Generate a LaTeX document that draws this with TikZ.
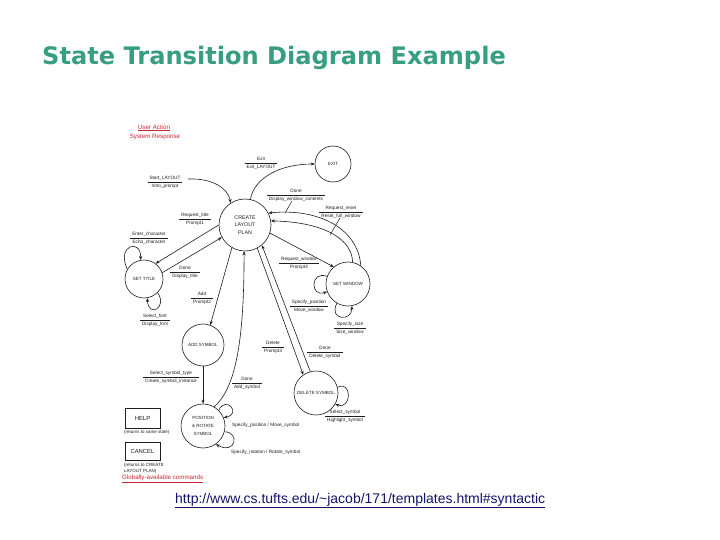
\documentclass[tikz,border=0pt]{standalone}
\usepackage{fontspec}
\setmainfont{Liberation Sans}
\newfontfamily\titlefont{DejaVu Sans}
\usetikzlibrary{arrows.meta}
\definecolor{titlegreen}{RGB}{56,158,128}
\definecolor{legred}{RGB}{200,40,50}
\definecolor{urlblue}{RGB}{20,20,110}
\definecolor{ink}{RGB}{30,30,30}
\renewcommand\arraystretch{1.4}
\setlength\arrayrulewidth{0.5pt}
\newcommand\fr[2]{\begin{tabular}{@{\hspace{2pt}}c@{\hspace{2pt}}}#1\\\hline #2\end{tabular}}
\tikzset{
  state/.style={circle, draw=ink, line width=0.6pt, inner sep=0pt, align=center, text=ink,
    font=\fontsize{4.5}{6}\selectfont},
  lab/.style={inner sep=0pt, text=ink, font=\fontsize{4.7}{5.6}\selectfont},
  arr/.style={draw=ink, line width=0.6pt, -{Stealth[length=4pt,width=3.2pt]}},
  lead/.style={draw=ink, line width=0.5pt},
  cmdbox/.style={draw=ink, line width=0.6pt, inner sep=0pt, text=ink, font=\fontsize{5.9}{7}\selectfont},
  note/.style={inner sep=0pt, text=ink, font=\fontsize{4.5}{5.8}\selectfont, align=left},
  legend/.style={inner sep=0pt, text=legred, font=\fontsize{6.2}{7.4}\selectfont}
}
\begin{document}
\begin{tikzpicture}[x=1pt,y=-1pt]
\useasboundingbox (0,0) rectangle (720,540);
\fill[white] (0,0) rectangle (720,540);

% title
\node[anchor=base west, inner sep=0pt, text=titlegreen,
  font=\titlefont\bfseries\fontsize{24.1}{28}\selectfont] (title) at (42,65) {State Transition Diagram Example};

% legend
\node[legend] (ua) at (154,128) {\underline{User Action}};
\node[legend] (sr) at (155,137) {System Response};

% states
\node[state, minimum size=52pt, font=\fontsize{5.3}{7.3}\selectfont] (create) at (245,225) {CREATE\\LAYOUT\\PLAN};
\node[state, minimum size=36pt] (exit) at (333,164) {EXIT};
\node[state, minimum size=38pt] (settitle) at (144,279) {SET TITLE};
\node[state, minimum size=44pt] (setwin) at (348,284) {SET WINDOW};
\node[state, minimum size=42pt] (addsym) at (203,345) {ADD SYMBOL};
\node[state, minimum size=44pt] (delsym) at (316,393) {DELETE SYMBOL};
\node[state, minimum size=44pt, font=\fontsize{4.5}{8}\selectfont] (posrot) at (203,426) {POSITION\\\& ROTATE\\SYMBOL};

% transitions
\coordinate (startfree) at (188,179);
\draw[arr] (startfree) .. controls (212,178) and (228,188) .. (create.123);
\draw[arr] (create.78) .. controls (254,178) and (280,164) .. (exit.180);
\draw[arr] (setwin.55) .. controls (358,228) and (318,208) .. (create.27);
\draw[arr] (setwin.78) .. controls (352,238) and (322,222) .. (create.9);
\draw[arr] (create.-18) -- (setwin.130);
\draw[arr] (setwin.160) .. controls (310,270) and (310,298) .. (setwin.200);
\draw[arr] (setwin.240) .. controls (328,320) and (352,322) .. (setwin.280);
\draw[arr] (create.180) -- (settitle.53);
\draw[arr] (settitle.19) -- (create.208);
\draw[arr] (settitle.150) .. controls (116,245) and (141,238) .. (settitle.100);
\draw[arr] (settitle.-45) .. controls (168,308) and (148,318) .. (settitle.-80);
\draw[arr] (create.240) -- (addsym.70);
\draw[arr] (posrot.60) .. controls (240,385) and (244,320) .. (create.268);
\draw[arr] (create.-62) -- (delsym.125);
\draw[arr] (delsym.105) -- (create.-50);
\draw[arr] (delsym.15) .. controls (352,380) and (352,410) .. (delsym.-30);
\draw[arr] (addsym.-90) -- (posrot.90);
\draw[arr] (posrot.45) .. controls (226,395) and (242,414) .. (posrot.22);
\draw[arr] (posrot.-15) .. controls (240,432) and (236,455) .. (posrot.-55);

% transition labels
\node[lab] (lexit) at (261,163) {\fr{Exit}{Exit\_LAYOUT}};
\node[lab] (lstart) at (165,182) {\fr{Start\_LAYOUT}{Intro\_prompt}};
\node[lab] (ldone1) at (296,195) {\fr{Done}{Display\_window\_contents}};
\node[lab] (lreset) at (341,212) {\fr{Request\_reset}{Reset\_full\_window}};
\node[lab] (ltitle) at (195,219) {\fr{Request\_title}{Prompt1}};
\node[lab] (lenter) at (149,238) {\fr{Enter\_character}{Echo\_character}};
\node[lab] (ldone2) at (185,272) {\fr{Done}{Display\_title}};
\node[lab] (ladd) at (202,298) {\fr{Add}{Prompt2}};
\node[lab] (lfont) at (155,320) {\fr{Select\_font}{Display\_font}};
\node[lab] (lwin) at (299,263) {\fr{Request\_window}{Prompt4}};
\node[lab] (lpos) at (309,306) {\fr{Specify\_position}{Move\_window}};
\node[lab] (lsize) at (350,328) {\fr{Specify\_size}{Size\_window}};
\node[lab] (ldel) at (273,347) {\fr{Delete}{Prompt3}};
\node[lab] (ldone3) at (325,352) {\fr{Done}{Delete\_symbol}};
\node[lab] (ltype) at (171,377) {\fr{Select\_symbol\_type}{Create\_symbol\_instance}};
\node[lab] (ldone4) at (247,383) {\fr{Done}{Add\_symbol}};
\node[lab] (lsel) at (345,416) {\fr{Select\_symbol}{Highlight\_symbol}};
\node[lab, anchor=west] (lmove) at (232,425) {Specify\_position / Move\_symbol};
\node[lab, anchor=west] (lrot) at (231,452) {Specify\_rotation / Rotate\_symbol};

% leader lines
\coordinate (ld1a) at (292,201); \coordinate (ld1b) at (285,213);
\draw[lead] (ld1a) -- (ld1b);
\coordinate (ld2a) at (340,218); \coordinate (ld2b) at (330,235);
\draw[lead] (ld2a) -- (ld2b);

% global commands
\node[cmdbox, minimum width=35pt, minimum height=20pt] (help) at (142.5,418) {HELP};
\node[note, anchor=west] (helpnote) at (124,432) {(returns to same state)};
\node[cmdbox, minimum width=35pt, minimum height=18pt] (cancel) at (142.5,451) {CANCEL};
\node[note, anchor=north west] (cancelnote) at (124,463) {(returns to CREATE\\LAYOUT PLAN)};
\node[legend, anchor=west] (glob) at (122,479) {\underline{Globally-available commands}};

% url
\node[anchor=base west, inner sep=0pt, text=urlblue, font=\fontsize{14}{16}\selectfont] (url) at (175,503)
  {\underline{http://www.cs.tufts.edu/\textasciitilde jacob/171/templates.html\#syntactic}};
\end{tikzpicture}
\end{document}
